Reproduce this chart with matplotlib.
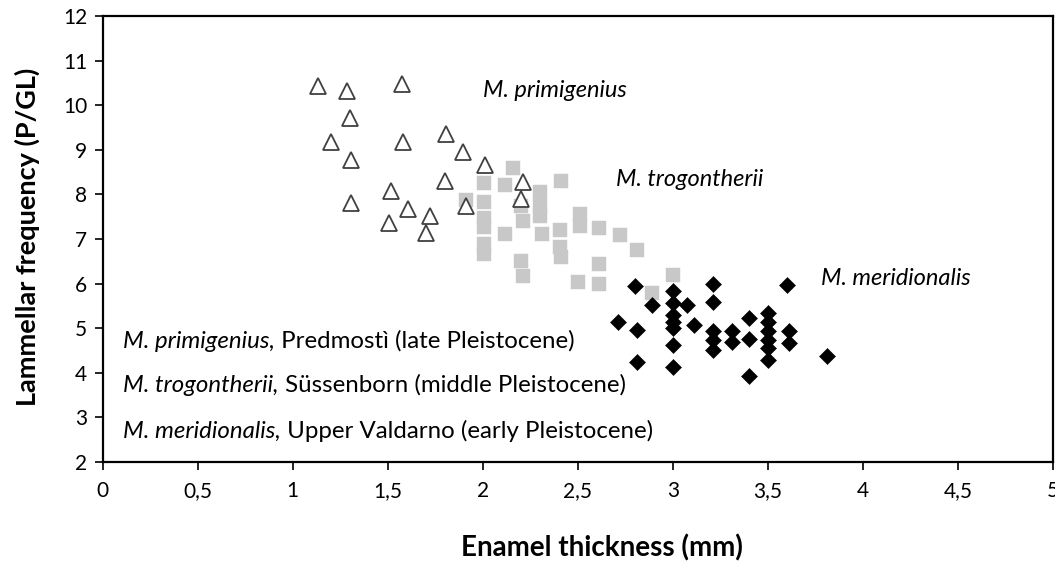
import matplotlib
matplotlib.use("Agg")
import matplotlib.pyplot as plt

# M. primigenius (open triangles)
prim_x = [1.135, 1.284, 1.30, 1.20, 1.305, 1.305, 1.578, 1.58, 1.806, 1.894,
          2.01, 1.80, 2.21, 2.20, 1.515, 1.605, 1.725, 1.508, 1.70, 1.91]
prim_y = [10.42, 10.32, 9.72, 9.18, 8.76, 7.81, 10.47, 9.18, 9.35, 8.95,
          8.65, 8.31, 8.28, 7.89, 8.07, 7.68, 7.51, 7.36, 7.14, 7.74]

# M. trogontherii (grey squares)
trog_x = [2.16, 2.006, 2.116, 2.41, 2.30, 1.91, 2.006, 2.20, 2.30, 2.30,
          2.006, 2.006, 2.21, 2.116, 2.31, 2.405, 2.51, 2.51, 2.006, 2.006,
          2.405, 2.41, 2.20, 2.21, 2.50, 2.61, 2.72, 2.81, 2.61, 2.61,
          3.00, 2.89]
trog_y = [8.60, 8.26, 8.20, 8.30, 8.06, 7.88, 7.83, 7.74, 7.74, 7.51,
          7.48, 7.27, 7.40, 7.12, 7.12, 7.21, 7.55, 7.30, 6.88, 6.66,
          6.81, 6.60, 6.50, 6.18, 6.04, 7.25, 7.10, 6.75, 6.45, 5.98,
          6.20, 5.79]

# M. meridionalis (black diamonds)
meri_x = [2.80, 3.00, 3.21, 3.60, 2.89, 3.00, 3.075, 3.21, 3.00, 3.00,
          3.00, 2.71, 2.81, 3.11, 3.21, 3.21, 3.21, 3.00, 2.81, 3.00,
          3.40, 3.50, 3.50, 3.50, 3.50, 3.50, 3.50, 3.31, 3.31, 3.40,
          3.61, 3.61, 3.40, 3.81]
meri_y = [5.94, 5.83, 5.98, 5.96, 5.53, 5.57, 5.53, 5.58, 5.30, 5.15,
          5.00, 5.15, 4.97, 5.08, 4.93, 4.74, 4.52, 4.63, 4.25, 4.13,
          5.23, 5.34, 5.15, 4.93, 4.74, 4.55, 4.29, 4.93, 4.70, 4.76,
          4.93, 4.67, 3.92, 4.37]

x_ticks = [0, 0.5, 1, 1.5, 2, 2.5, 3, 3.5, 4, 4.5, 5]
x_tick_labels = ["0", "0,5", "1", "1,5", "2", "2,5", "3", "3,5", "4", "4,5", "5"]
y_ticks = list(range(2, 13))

species_labels = [
    ("M. primigenius", 2.0, 10.34),
    ("M. trogontherii", 2.70, 8.34),
    ("M. meridionalis", 3.78, 6.12),
]
legend_names = ["M. primigenius,", "M. trogontherii,", "M. meridionalis,"]
legend_rest = [" Predmostì (late Pleistocene)",
               " Süssenborn (middle Pleistocene)",
               " Upper Valdarno (early Pleistocene)"]
legend_y = [4.56, 3.57, 2.54]

plt.rcParams["font.family"] = ["Lato", "DejaVu Sans"]

fig = plt.figure(figsize=(10.55, 5.63), dpi=100)
ax = fig.add_axes([0.0972, 0.1794, 0.9008, 0.7922])

ax.plot(trog_x, trog_y, "s", ms=9.4, color="#c8c8c8", mec="#c8c8c8", mew=0.3, zorder=2)
ax.plot(meri_x, meri_y, "D", ms=8.4, color="black", mec="black", mew=0.4, zorder=3)
ax.plot(prim_x, prim_y, "^", ms=11, mfc="white", mec="#404040", mew=1.3, zorder=4)

for name, x, y in species_labels:
    ax.text(x, y, name, style="italic", fontsize=17, ha="left", va="center")

ax.set_xlim(0, 5)
ax.set_ylim(2, 12)
ax.set_xticks(x_ticks)
ax.set_xticklabels(x_tick_labels)
ax.set_yticks(y_ticks)
ax.tick_params(direction="out", length=6, width=1.2, labelsize=15, pad=8)
ax.tick_params(axis="y", pad=5)
for s in ax.spines.values():
    s.set_linewidth(1.6)

ax.set_xlabel("Enamel thickness (mm)", fontsize=20, fontweight="bold")
ax.xaxis.set_label_coords(0.5255, -0.193)
ax.xaxis.label.set_va("center")
ax.set_ylabel("Lammellar frequency (P/GL)", fontsize=19.5, fontweight="bold")
ax.yaxis.set_label_coords(-0.079, 0.505)
ax.yaxis.label.set_va("center")

# legend-like notes: italic species name followed by upright locality
fig.canvas.draw()
renderer = fig.canvas.get_renderer()
for name, rest, y in zip(legend_names, legend_rest, legend_y):
    t = ax.text(0.108, y, name, style="italic", fontsize=17.3, ha="left", va="baseline")
    bb = t.get_window_extent(renderer)
    x_end = ax.transData.inverted().transform((bb.x1, bb.y0))[0]
    ax.text(x_end, y, rest, fontsize=17.3, ha="left", va="baseline")

fig.savefig("out.png", dpi=100)
